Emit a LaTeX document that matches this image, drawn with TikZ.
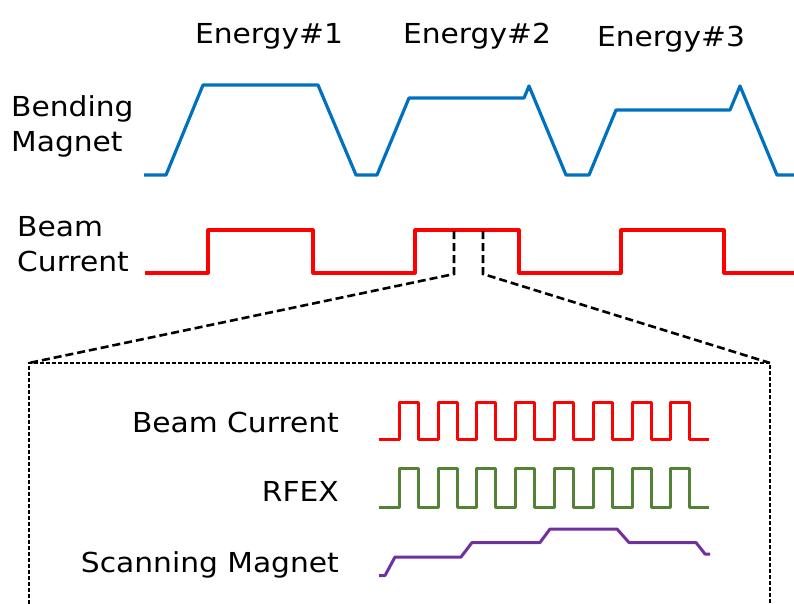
\documentclass[tikz,border=0pt]{standalone}
\usepackage{fontspec}
\setmainfont{DejaVu Sans}[FakeStretch=1.08]
\usetikzlibrary{positioning}
\definecolor{bmblue}{HTML}{0070C0}
\definecolor{rfgreen}{HTML}{548235}
\definecolor{smpurple}{HTML}{7030A0}

\begin{document}
\begin{tikzpicture}[x=1pt, y=-1pt,
  lbl/.style={font=\fontsize{27.5}{30}\selectfont, inner sep=0pt},
  bmline/.style={bmblue, line width=3.2pt, line join=round},
  bcline/.style={red, line width=3.2pt, line join=round},
  pulse/.style={line width=3pt, line join=round},
  zoomline/.style={line width=2.6pt, dash pattern=on 8pt off 4pt},
  zoombox/.style={line width=1.4pt, dash pattern=on 4pt off 2pt}
]
\useasboundingbox (0,0) rectangle (794,603);

% energy labels
\node[lbl, anchor=base] (e1) at (269,43) {Energy\#1};
\node[lbl, anchor=base] (e2) at (477,43) {Energy\#2};
\node[lbl, anchor=base] (e3) at (671,46) {Energy\#3};

% row labels
\node[lbl, anchor=base west] (bm1) at (11,116.5) {Bending};
\node[lbl, anchor=base west] (bm2) at (11,151.5) {Magnet};
\node[lbl, anchor=base west] (bc1) at (17,236.5) {Beam};
\node[lbl, anchor=base west] (bc2) at (17,271.5) {Current};

% bending magnet
\draw[bmline] (144,175) -- (166,175) -- (203,85) -- (318,85) -- (356,175)
  -- (377,175) -- (409,98) -- (524,98) -- (529,86) -- (566,175)
  -- (589,175) -- (616,110) -- (730,110) -- (740,86) -- (777,175) -- (794,175);

% beam current
\draw[bcline] (145,273) -- (208,273) -- (208,230) -- (313,230) -- (313,273)
  -- (415,273) -- (415,230) -- (519,230) -- (519,273)
  -- (621,273) -- (621,230) -- (724,230) -- (724,273) -- (794,273);

% zoom
\coordinate (zl) at (454,231);
\coordinate (zr) at (483,231);
\coordinate (zlb) at (454,274);
\coordinate (zrb) at (483,274);
\coordinate (boxnw) at (29,363);
\coordinate (boxne) at (770,363);
\coordinate (boxsw) at (29,610);
\coordinate (boxse) at (770,610);
\draw[zoomline] (zl) -- (zlb) -- (boxnw);
\draw[zoomline] (zr) -- (zrb) -- (boxne);
\draw[zoombox] (boxsw) -- (boxnw) -- (boxne) -- (boxse);

% detail labels
\node[lbl, anchor=base east] (dbc) at (339,432) {Beam Current};
\node[lbl, anchor=base east] (drf) at (339,501) {RFEX};
\node[lbl, anchor=base east] (dsm) at (339,572) {Scanning Magnet};

% detail signals
\draw[pulse, red] (379,439)
  \foreach \k in {0,...,7} {
    -- (399.3+38.8*\k,439) -- (399.3+38.8*\k,402)
    -- (418.3+38.8*\k,402) -- (418.3+38.8*\k,439)}
  -- (709,439);
\draw[pulse, rfgreen] (379,507)
  \foreach \k in {0,...,7} {
    -- (399.3+38.8*\k,507) -- (399.3+38.8*\k,468.5)
    -- (418.3+38.8*\k,468.5) -- (418.3+38.8*\k,507)}
  -- (709,507);
\draw[pulse, smpurple] (379,575.5) -- (385,575.5) -- (395,557) -- (461,557)
  -- (472,542.5) -- (540,542.5) -- (550,529) -- (617,529) -- (629,542.5)
  -- (696,542.5) -- (705,554) -- (710,554);
\end{tikzpicture}
\end{document}
